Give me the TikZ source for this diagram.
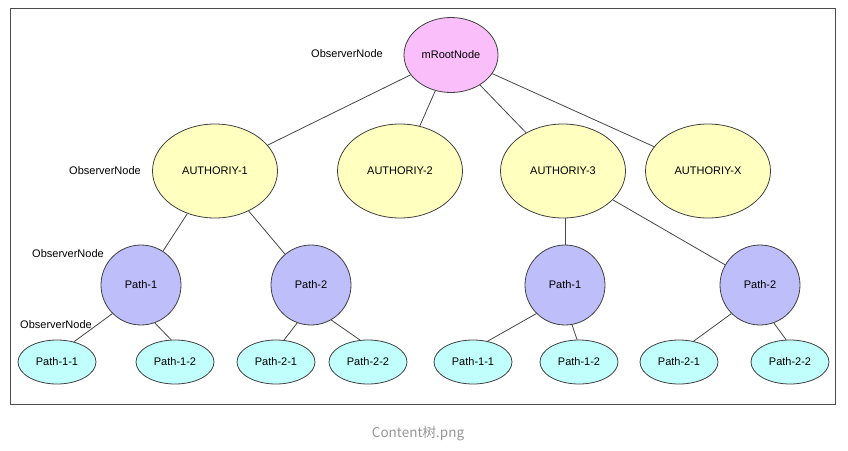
\documentclass[tikz,border=0pt]{standalone}
\usepackage{fontspec}
\setmainfont{Liberation Sans}
\newfontfamily\cjk{Noto Sans CJK SC}
\usetikzlibrary{shapes.geometric}
\definecolor{pinkfill}{RGB}{250,190,250}
\definecolor{yellowfill}{RGB}{255,255,192}
\definecolor{purplefill}{RGB}{190,190,250}
\definecolor{cyanfill}{RGB}{192,255,252}
\definecolor{edgegray}{RGB}{70,70,70}
\definecolor{captiongray}{RGB}{150,150,150}
\tikzset{
  x=1pt,y=-1pt,
  every node/.style={font=\fontsize{11}{13}\selectfont},
  base/.style={ellipse, draw=black!75, line width=0.8pt, inner sep=0pt},
  rootnode/.style={base, fill=pinkfill, minimum width=94pt, minimum height=75pt},
  authnode/.style={base, fill=yellowfill, minimum width=125pt, minimum height=94pt},
  pathnode/.style={base, fill=purplefill, minimum width=80pt, minimum height=80pt},
  leafnode/.style={base, fill=cyanfill, minimum width=78pt, minimum height=44pt},
  obslabel/.style={inner sep=0pt},
  conn/.style={draw=edgegray, line width=0.8pt}
}
\begin{document}
\begin{tikzpicture}
\useasboundingbox (0,0) rectangle (848,450);
\node[draw=black!70, line width=0.8pt, minimum width=825pt, minimum height=396pt, inner sep=0pt] (frame) at (422.5,206) {};
\node[text=captiongray, font=\cjk\fontsize{13.5}{15}\selectfont] (cap) at (418,434) {Content树.png};

\node[rootnode] (root) at (451,55) {mRootNode};
\node[authnode] (a1) at (215,171) {AUTHORIY-1};
\node[authnode] (a2) at (400,171) {AUTHORIY-2};
\node[authnode] (a3) at (563,171) {AUTHORIY-3};
\node[authnode] (ax) at (708,171) {AUTHORIY-X};

\node[pathnode] (lp1) at (141,285) {Path-1};
\node[pathnode] (lp2) at (311,285) {Path-2};
\node[pathnode] (rp1) at (565,285) {Path-1};
\node[pathnode] (rp2) at (760,285) {Path-2};

\node[leafnode] (l11) at (57,362) {Path-1-1};
\node[leafnode] (l12) at (175,362) {Path-1-2};
\node[leafnode] (l21) at (276,362) {Path-2-1};
\node[leafnode] (l22) at (368,362) {Path-2-2};
\node[leafnode] (r11) at (473,362) {Path-1-1};
\node[leafnode] (r12) at (579,362) {Path-1-2};
\node[leafnode] (r21) at (679,362) {Path-2-1};
\node[leafnode] (r22) at (790,362) {Path-2-2};

\node[obslabel] (o1) at (347,54) {ObserverNode};
\node[obslabel] (o2) at (105,171) {ObserverNode};
\node[obslabel] (o3) at (68,254) {ObserverNode};
\node[obslabel] (o4) at (56,325) {ObserverNode};

\draw[conn] (root) -- (a1);
\draw[conn] (root) -- (a2);
\draw[conn] (root) -- (a3);
\draw[conn] (root) -- (ax);
\draw[conn] (a1) -- (lp1);
\draw[conn] (a1) -- (lp2);
\draw[conn] (a3.south -| rp1.north) -- (rp1.north);
\draw[conn] (a3) -- (rp2);
\draw[conn] (lp1.225) -- (l11.50);
\draw[conn] (lp1.290) -- (l12.100);
\draw[conn] (lp2.250) -- (l21.70);
\draw[conn] (lp2.300) -- (l22.110);
\draw[conn] (rp1.225) -- (r11.55);
\draw[conn] (rp1.280) -- (r12.95);
\draw[conn] (rp2.225) -- (r21.55);
\draw[conn] (rp2.290) -- (r22.100);
\end{tikzpicture}
\end{document}
